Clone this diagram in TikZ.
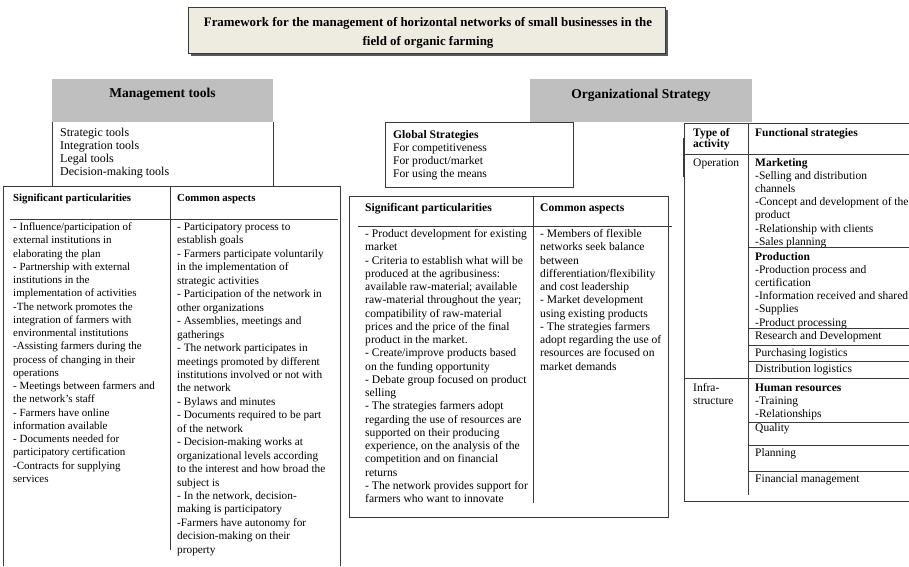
\documentclass[tikz,border=0pt]{standalone}
\usepackage{fontspec}
\setmainfont{Liberation Serif}
\definecolor{hdrgrey}{HTML}{BFBFBF}
\definecolor{titlebg}{HTML}{EEECE1}
\definecolor{framecol}{HTML}{3A3A3A}
\newcommand\txtblk[2]{\parbox[t]{#1}{\raggedright #2}}
\begin{document}
\begin{tikzpicture}[x=1pt,y=-1pt,
  frame/.style={draw=framecol, line width=0.9pt},
  txt/.style={anchor=base west, inner sep=0pt},
  lfont/.style={txt, font=\fontsize{11.0}{13.25}\selectfont},
  lrfont/.style={txt, font=\fontsize{11.3}{13.45}\selectfont},
  lhdr/.style={txt, font=\fontsize{10.8}{13}\selectfont\bfseries},
  tfont/.style={txt, font=\fontsize{12}{13}\selectfont},
  mfont/.style={txt, font=\fontsize{11.6}{13.25}\selectfont},
  mhdr/.style={txt, font=\fontsize{11.6}{13.25}\selectfont\bfseries},
  rfont/.style={txt, font=\fontsize{11.5}{13.1}\selectfont},
  rhdr/.style={txt, font=\fontsize{11.5}{11}\selectfont\bfseries},
  hdr/.style={anchor=base, inner sep=0pt, font=\fontsize{13.5}{16}\selectfont\bfseries},
  ttl/.style={anchor=base, inner sep=0pt, font=\fontsize{12.9}{19}\selectfont\bfseries}]
\useasboundingbox (0,0) rectangle (909,566);
\fill[white] (0,0) rectangle (909,566);

% ---------- title ----------
\fill[black!65] (190.5,9.5) rectangle (667.5,55.5);
\draw[fill=titlebg, draw=framecol, line width=0.9pt] (188,7) rectangle (665,53);
\node[ttl] (title1) at (428,26) {Framework for the management of horizontal networks of small businesses in the};
\node[ttl] (title2) at (428,45) {field of organic farming};

% ---------- management tools ----------
\fill[hdrgrey] (52,79) rectangle (273,122);
\node[hdr] (mt) at (162.5,97) {Management tools};
\draw[frame] (52,186) -- (52,122);
\draw[frame] (273,122) -- (273,186);
\node[tfont] (tools) at (60,136.5) {\txtblk{200pt}{Strategic tools\\ Integration tools\\ Legal tools\\ Decision-making tools}};

% left table
\draw[frame] (3,566) -- (3,186) -- (340,186) -- (340,566);
\draw[frame] (10,219) -- (338,219);
\draw[frame] (170,186) -- (170,550);
\node[lhdr] (lh1) at (13,201.5) {Significant particularities};
\node[lhdr] (lh2) at (177,201.5) {Common aspects};
\node[lfont] (lc1) at (13,230.5) {\txtblk{160pt}{%
- Influence/participation of\\
external institutions in\\
elaborating the plan\\
- Partnership with external\\
institutions in the\\
implementation of activities\\
-The network promotes the\\
integration of farmers with\\
environmental institutions\\
-Assisting farmers during the\\
process of changing in their\\
operations\\
- Meetings between farmers and\\
the network's staff\\
- Farmers have online\\
information available\\
- Documents needed for\\
participatory certification\\
-Contracts for supplying\\
services}};
\node[lrfont] (lc2) at (177,230.5) {\txtblk{170pt}{%
- Participatory process to\\
establish goals\\
- Farmers participate voluntarily\\
in the implementation of\\
strategic activities\\
- Participation of the network in\\
other organizations\\
- Assemblies, meetings and\\
gatherings\\
- The network participates in\\
meetings promoted by different\\
institutions involved or not with\\
the network\\
- Bylaws and minutes\\
- Documents required to be part\\
of the network\\
- Decision-making works at\\
organizational levels according\\
to the interest and how broad the\\
subject is\\
- In the network, decision-\\
making is participatory\\
-Farmers have autonomy for\\
decision-making on their\\
property}};

% ---------- organizational strategy ----------
\fill[hdrgrey] (530,79) rectangle (752,122);
\node[hdr] (os) at (641,98) {Organizational Strategy};

\draw[frame] (385,122) rectangle (573,187);
\node[mhdr] (gs) at (393,138.5) {Global Strategies};
\node[mfont] (gsl) at (393,151.5) {\txtblk{170pt}{\setlength\baselineskip{13pt}For competitiveness\\ For product/market\\ For using the means}};

% middle table
\draw[frame] (349,196) rectangle (668,517);
\draw[frame] (358,226) -- (672,226);
\draw[frame] (533,196) -- (533,503);
\node[mhdr] (mh1) at (365,211.5) {Significant particularities};
\node[mhdr] (mh2) at (540,211.5) {Common aspects};
\node[mfont] (mc1) at (365,237.5) {\txtblk{175pt}{%
- Product development for existing\\
market\\
- Criteria to establish what will be\\
produced at the agribusiness:\\
available raw-material; available\\
raw-material throughout the year;\\
compatibility of raw-material\\
prices and the price of the final\\
product in the market.\\
- Create/improve products based\\
on the funding opportunity\\
- Debate group focused on product\\
selling\\
- The strategies farmers adopt\\
regarding the use of resources are\\
supported on their producing\\
experience, on the analysis of the\\
competition and on financial\\
returns\\
- The network provides support for\\
farmers who want to innovate}};
\node[mfont] (mc2) at (540,237.5) {\txtblk{130pt}{%
- Members of flexible\\
networks seek balance\\
between\\
differentiation/flexibility\\
and cost leadership\\
- Market development\\
using existing products\\
- The strategies farmers\\
adopt regarding the use of\\
resources are focused on\\
market demands}};

% right table
\draw[frame] (915,123) -- (684,123) -- (684,501) -- (915,501);
\draw[draw=framecol, line width=2.2pt] (684,138) -- (684,177);
\draw[frame] (748,123) -- (748,495);
\draw[frame] (684,154) -- (915,154);
\draw[frame] (748,247) -- (915,247);
\draw[frame] (748,328) -- (915,328);
\draw[frame] (748,345) -- (915,345);
\draw[frame] (748,361) -- (915,361);
\draw[frame] (684,378) -- (915,378);
\draw[frame] (748,422) -- (915,422);
\draw[frame] (748,445) -- (915,445);
\draw[frame] (748,471) -- (915,471);
\node[rhdr] (rh1) at (693,136.5) {\txtblk{55pt}{Type of\\ activity}};
\node[rhdr] (rh2) at (755,136.5) {Functional strategies};
\node[rfont] (op) at (693,166.5) {Operation};
\node[rfont] (mk) at (755,166.5) {\txtblk{170pt}{\textbf{Marketing}\\
-Selling and distribution\\
channels\\
-Concept and development of the\\
product\\
-Relationship with clients\\
-Sales planning}};
\node[rfont] (pr) at (755,260.5) {\txtblk{170pt}{\textbf{Production}\\
-Production process and\\
certification\\
-Information received and shared\\
-Supplies\\
-Product processing}};
\node[rfont] (rd) at (755,339.5) {Research and Development};
\node[rfont] (pl) at (755,356) {Purchasing logistics};
\node[rfont] (dl) at (755,372.5) {Distribution logistics};
\node[rfont] (inf) at (693,391.5) {\txtblk{55pt}{Infra-\\ structure}};
\node[rfont] (hr) at (755,391.5) {\txtblk{170pt}{\textbf{Human resources}\\
-Training\\
-Relationships}};
\node[rfont] (ql) at (755,431.5) {Quality};
\node[rfont] (pn) at (755,456.5) {Planning};
\node[rfont] (fm) at (755,482.5) {Financial management};
\end{tikzpicture}
\end{document}
